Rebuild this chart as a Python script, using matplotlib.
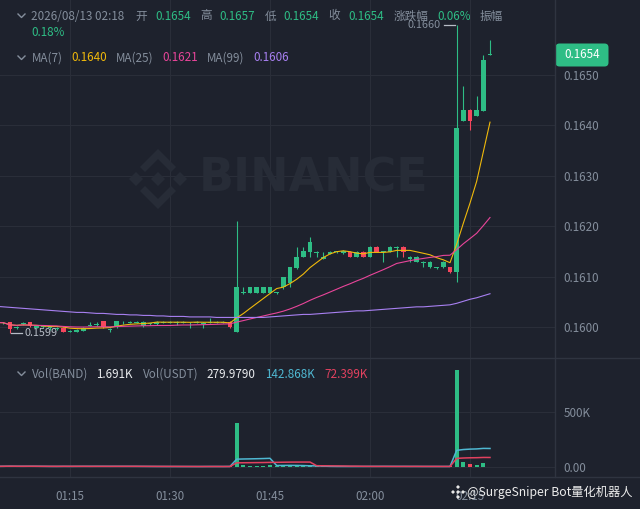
import numpy as np
import pandas as pd
import matplotlib
matplotlib.use("Agg")
import matplotlib.pyplot as plt
from matplotlib.patches import FancyBboxPatch, Polygon
from matplotlib.lines import Line2D
from matplotlib.transforms import IdentityTransform

plt.rcParams['font.family'] = ['Noto Sans CJK SC', 'DejaVu Sans']

# 1-minute candles, 01:04 .. 02:18 (index 0 = 01:04)
opens = [0.16006, 0.16007, 0.16009, 0.15998, 0.16006, 0.16009, 0.15999, 0.16000, 0.15998, 0.15997,
         0.15999, 0.15991, 0.15990, 0.15993, 0.16002, 0.16003, 0.16011, 0.15995, 0.16000, 0.16009,
         0.16008, 0.16008, 0.16001, 0.16005, 0.16005, 0.16008, 0.16008, 0.16008, 0.16008, 0.16007,
         0.16008, 0.16006, 0.16008, 0.16008, 0.16008, 0.16010, 0.15991, 0.16067, 0.16068, 0.16068,
         0.16068, 0.16068, 0.16067, 0.16079, 0.16087, 0.16117, 0.16139, 0.16149, 0.16147, 0.16135,
         0.16145, 0.16148, 0.16146, 0.16149, 0.16139, 0.16149, 0.16139, 0.16159, 0.16148, 0.16149,
         0.16157, 0.16159, 0.16135, 0.16129, 0.16127, 0.16119, 0.16117, 0.16119, 0.16119, 0.16109,
         0.16409, 0.16431, 0.16419, 0.16429, 0.16540]
highs = [0.16010, 0.16010, 0.16010, 0.16002, 0.16009, 0.16010, 0.16003, 0.16002, 0.16000, 0.16000,
         0.16000, 0.15994, 0.15996, 0.16000, 0.16010, 0.16010, 0.16012, 0.15998, 0.16012, 0.16011,
         0.16011, 0.16011, 0.16011, 0.16008, 0.16011, 0.16011, 0.16011, 0.16011, 0.16011, 0.16009,
         0.16011, 0.16009, 0.16017, 0.16011, 0.16011, 0.16011, 0.16210, 0.16080, 0.16080, 0.16080,
         0.16080, 0.16080, 0.16070, 0.16100, 0.16120, 0.16159, 0.16159, 0.16179, 0.16150, 0.16149,
         0.16150, 0.16151, 0.16152, 0.16150, 0.16150, 0.16150, 0.16160, 0.16160, 0.16151, 0.16160,
         0.16160, 0.16160, 0.16140, 0.16140, 0.16130, 0.16130, 0.16120, 0.16130, 0.16120, 0.16600,
         0.16478, 0.16432, 0.16458, 0.16540, 0.16570]
lows = [0.16004, 0.16006, 0.15989, 0.15996, 0.16004, 0.16000, 0.15998, 0.15998, 0.15995, 0.15995,
        0.15990, 0.15990, 0.15990, 0.15992, 0.16001, 0.16002, 0.15999, 0.15991, 0.15999, 0.16005,
        0.16007, 0.16007, 0.16000, 0.16003, 0.16004, 0.16007, 0.16007, 0.16004, 0.16007, 0.15998,
        0.16007, 0.15998, 0.16007, 0.16007, 0.16007, 0.15999, 0.15991, 0.16066, 0.16067, 0.16067,
        0.16067, 0.16067, 0.16066, 0.16075, 0.16079, 0.16116, 0.16138, 0.16139, 0.16139, 0.16134,
        0.16144, 0.16147, 0.16145, 0.16138, 0.16138, 0.16138, 0.16138, 0.16148, 0.16129, 0.16148,
        0.16139, 0.16139, 0.16129, 0.16128, 0.16119, 0.16118, 0.16116, 0.16118, 0.16108, 0.16090,
        0.16408, 0.16390, 0.16418, 0.16428, 0.16540]
closes = [0.16009, 0.16008, 0.15996, 0.16000, 0.16008, 0.16001, 0.16001, 0.16001, 0.15999, 0.15998,
          0.15991, 0.15993, 0.15995, 0.15999, 0.16004, 0.16005, 0.16000, 0.15997, 0.16011, 0.16010,
          0.16010, 0.16010, 0.16010, 0.16007, 0.16010, 0.16010, 0.16010, 0.16010, 0.16010, 0.16008,
          0.16010, 0.16008, 0.16010, 0.16010, 0.16010, 0.16000, 0.16079, 0.16070, 0.16079, 0.16079,
          0.16079, 0.16079, 0.16069, 0.16099, 0.16119, 0.16139, 0.16151, 0.16169, 0.16149, 0.16139,
          0.16149, 0.16150, 0.16151, 0.16139, 0.16149, 0.16139, 0.16159, 0.16149, 0.16150, 0.16159,
          0.16159, 0.16149, 0.16139, 0.16139, 0.16129, 0.16129, 0.16119, 0.16129, 0.16109, 0.16395,
          0.16431, 0.16409, 0.16431, 0.16530, 0.16540]
volumes = [6000, 7000, 9000, 5000, 6000, 8000, 5000, 4000, 5000, 4000,
           9000, 6000, 7000, 6000, 5000, 5000, 8000, 6000, 7000, 5000,
           5000, 4000, 6000, 4000, 5000, 4000, 4000, 4000, 5000, 4000,
           4000, 5000, 6000, 4000, 4000, 7000, 400000, 14000, 12000, 12000,
           13000, 20000, 10000, 18000, 16000, 8000, 6000, 7000, 5000, 5000,
           4000, 4000, 5000, 6000, 5000, 6000, 7000, 5000, 6000, 5000,
           4000, 6000, 5000, 5000, 4000, 5000, 4000, 5000, 6000, 880000,
           48000, 27000, 15000, 33000, 1691]
# MA(99) (history before 01:04 not visible)
ma99 = [0.16041, 0.16040, 0.16039, 0.16038, 0.16037, 0.16036, 0.16035, 0.16034, 0.16033, 0.16032,
        0.16031, 0.16030, 0.16029, 0.16029, 0.16028, 0.16027, 0.16027, 0.16026, 0.16025, 0.16025,
        0.16024, 0.16024, 0.16023, 0.16023, 0.16022, 0.16022, 0.16021, 0.16021, 0.16021, 0.16020,
        0.16020, 0.16020, 0.16020, 0.16019, 0.16019, 0.16019, 0.16019, 0.16019, 0.16019, 0.16019,
        0.16019, 0.16020, 0.16021, 0.16022, 0.16023, 0.16024, 0.16025, 0.16025, 0.16026, 0.16027,
        0.16028, 0.16029, 0.16030, 0.16031, 0.16032, 0.16032, 0.16033, 0.16034, 0.16035, 0.16036,
        0.16037, 0.16038, 0.16039, 0.16040, 0.16040, 0.16041, 0.16042, 0.16043, 0.16044, 0.16047,
        0.16051, 0.16055, 0.16058, 0.16062, 0.16066]

tick_pos = [11, 26, 41, 56, 71]
tick_labels = ['01:15', '01:30', '01:45', '02:00', '02:15']
price_ticks = [0.1600, 0.1610, 0.1620, 0.1630, 0.1640, 0.1650]

W, H = 640, 509
BG = '#1e222d'
GRID = '#2a2e39'
SEP = '#2f3440'
GREEN = '#2ebd85'
RED = '#f6465d'
GRAY = '#848e9c'
FS = 8.4

def fx(x):
    return x / W

def fy(y):
    return 1 - y / H

df = pd.DataFrame({'o': opens, 'h': highs, 'l': lows, 'c': closes, 'v': volumes})
idx = np.arange(len(df))
up = df['c'] >= df['o']
cols = np.where(up, GREEN, RED)

fig = plt.figure(figsize=(6.4, 5.09), dpi=100, facecolor=BG)
ax = fig.add_axes([0, fy(358), 555 / W, 358 / H], facecolor=BG)
axv = fig.add_axes([0, fy(477), 555 / W, (477 - 358) / H], facecolor=BG, sharex=ax)

# candles
ax.vlines(idx, df['l'], df['h'], colors=cols, lw=0.8, zorder=3)
body = np.maximum((df['c'] - df['o']).abs(), 0.000018)
ax.bar(idx, body, bottom=np.minimum(df['o'], df['c']), width=0.66, color=cols, lw=0, zorder=4)

ax.plot(idx, df['c'].rolling(7, min_periods=1).mean(), color='#f0b90b', lw=0.8, zorder=5)
ax.plot(idx, df['c'].rolling(25, min_periods=1).mean(), color='#e9459a', lw=0.8, zorder=5)
ax.plot(idx, ma99, color='#a880f2', lw=0.8, zorder=5)

ax.set_xlim(0.5, 83.75)
ax.set_ylim(0.159385, 0.166488)
ax.yaxis.tick_right()
ax.set_yticks(price_ticks)
ax.set_yticklabels(['%.4f' % p for p in price_ticks])
ax.tick_params(axis='y', length=0, pad=6, labelcolor=GRAY, labelsize=FS)
ax.tick_params(axis='x', length=0, labelbottom=False)
ax.set_xticks(tick_pos)
ax.grid(color=GRID, lw=0.8, zorder=0)

# high / low markers
hi = int(np.argmax(df['h']))
lo = int(np.argmin(df['l']))
ax.plot([hi - 0.25, hi - 1.9], [df['h'][hi]] * 2, color='#b7bdc6', lw=0.9, zorder=6)
ax.text(hi - 2.4, df['h'][hi], '%.4f' % df['h'][hi], color=GRAY, fontsize=FS - 0.6,
        ha='right', va='center', zorder=6)
ax.plot([lo + 0.1, lo + 1.75], [df['l'][lo]] * 2, color='#b7bdc6', lw=0.9, zorder=6)
ax.text(lo + 2.2, df['l'][lo], '%.4f' % round(df['l'][lo], 4), color='#b7bdc6', fontsize=FS - 0.6,
        ha='left', va='center', zorder=6)

# volume
axv.bar(idx, df['v'], width=0.6, color=cols, lw=0, zorder=3)
axv.plot(idx, df['v'].rolling(6, min_periods=1).mean(), color='#4fb8d2', lw=1.1, zorder=4)
axv.plot(idx, df['v'].rolling(12, min_periods=1).mean(), color='#e2415f', lw=1.1, zorder=4)
axv.set_ylim(-90450, 985900)
axv.yaxis.tick_right()
axv.set_yticks([0, 500000])
axv.set_yticklabels(['0.00', '500K'])
axv.tick_params(axis='y', length=0, pad=6, labelcolor=GRAY, labelsize=FS)
axv.set_xticks(tick_pos)
axv.set_xticklabels(tick_labels)
axv.tick_params(axis='x', length=0, pad=9, labelcolor=GRAY, labelsize=FS)
axv.grid(color=GRID, lw=0.8, zorder=0)

for a in (ax, axv):
    for s in a.spines.values():
        s.set_visible(False)

# separators
fig.add_artist(Line2D([0, 1], [fy(358), fy(358)], color=SEP, lw=1, transform=fig.transFigure))
fig.add_artist(Line2D([0, 1], [fy(477), fy(477)], color=SEP, lw=1, transform=fig.transFigure))
fig.add_artist(Line2D([fx(555), fx(555)], [fy(477), 1], color=SEP, lw=1, transform=fig.transFigure))

# watermark
WM = '#272c37'
pix = IdentityTransform()
def poly(pts, color):
    fig.add_artist(Polygon([(x, H - y) for x, y in pts], closed=True, color=color,
                           transform=pix, lw=0, zorder=1))
cx, cy = 158, 179
poly([(cx, cy - 7), (cx + 7, cy), (cx, cy + 7), (cx - 7, cy)], WM)
poly([(cx - 22, cy - 7), (cx - 15, cy), (cx - 22, cy + 7), (cx - 29, cy)], WM)
poly([(cx + 22, cy - 7), (cx + 29, cy), (cx + 22, cy + 7), (cx + 15, cy)], WM)
poly([(cx, cy - 30), (cx + 18, cy - 12), (cx + 13, cy - 7), (cx, cy - 20), (cx - 13, cy - 7), (cx - 18, cy - 12)], WM)
poly([(cx, cy + 30), (cx + 18, cy + 12), (cx + 13, cy + 7), (cx, cy + 20), (cx - 13, cy + 7), (cx - 18, cy + 12)], WM)
fig.text(fx(199), fy(179), 'BINANCE', family='DejaVu Sans', fontweight='bold', fontsize=33,
         color=WM, ha='left', va='center', zorder=1)

# chevrons
for yy in (16, 58, 374):
    fig.add_artist(Line2D([18, 21.5, 25], [H - yy + 2, H - yy - 1.5, H - yy + 2], color=GRAY,
                          lw=1, transform=pix))

def label(x, y, s, color):
    fig.text(fx(x), fy(y), s, color=color, fontsize=FS, ha='left', va='center')

header = [(31, '2026/08/13 02:18', GRAY), (135, '开', GRAY), (155, '0.1654', GREEN),
          (200, '高', GRAY), (219, '0.1657', GREEN), (264.5, '低', GRAY), (283.5, '0.1654', GREEN),
          (328.5, '收', GRAY), (348, '0.1654', GREEN), (394, '涨跌幅', GRAY), (437.5, '0.06%', GREEN),
          (479.5, '振幅', GRAY)]
for x, s, c in header:
    label(x, 16, s, c)
label(31, 33, '0.18%', GREEN)

ma_row = [(31.5, 'MA(7)', GRAY), (71, '0.1640', '#f0b90b'), (116, 'MA(25)', GRAY),
          (162, '0.1621', '#e9459a'), (207, 'MA(99)', GRAY), (253, '0.1606', '#a880f2')]
for x, s, c in ma_row:
    label(x, 58, s, c)

vol_row = [(31.5, 'Vol(BAND)', GRAY), (96.5, '1.691K', '#eaecef'), (142.5, 'Vol(USDT)', GRAY),
           (206.5, '279.9790', '#eaecef'), (265, '142.868K', '#4fb8d2'), (324, '72.399K', '#e2415f')]
for x, s, c in vol_row:
    label(x, 374, s, c)

# last price tag
fig.add_artist(FancyBboxPatch((555.5, H - 66.5), 53, 23, boxstyle='round,pad=0,rounding_size=4',
                              fc=GREEN, ec='none', transform=pix))
fig.text(fx(582), fy(55), '%.4f' % df['c'].iloc[-1], color='white', fontsize=FS,
         ha='center', va='center')

# bottom-right watermark
ic = (458, 492)
for dx, dy in [(0, -5), (-5, 0), (5, 0), (0, 5), (0, 0)]:
    x0, y0 = ic[0] + dx, ic[1] + dy
    poly([(x0, y0 - 2), (x0 + 2, y0), (x0, y0 + 2), (x0 - 2, y0)], '#e8e8e8')
fig.text(fx(467), fy(492), '@SurgeSniper Bot量化机器人', color='#ececec', fontsize=8.8,
         ha='left', va='center')

fig.savefig('out.png', dpi=100, facecolor=BG)
